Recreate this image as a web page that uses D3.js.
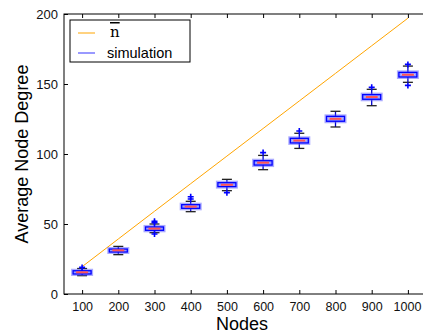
<!DOCTYPE html>
<meta charset="utf-8">
<style>
body { margin: 0; background: #fff; }
svg { display: block; }
.axis text { font: 13px "Liberation Sans", sans-serif; fill: #111; }
.axis--x text { font-size: 12.5px; }
.lbl { font: 18px "Liberation Sans", sans-serif; fill: #000; }
</style>
<body>
<svg width="423" height="334"></svg>
<script src="https://d3js.org/d3.v7.min.js"></script>
<script>
// nodes and the n-bar line
var nodes = [100, 200, 300, 400, 500, 600, 700, 800, 900, 1000];
var nbar = [19.5, 39.3, 59.1, 78.8, 98.5, 118.2, 137.9, 157.6, 177.3, 197];

// box plot stats per node count
var whiskLo = [13.1, 28.1, 43.8, 58.8, 73.8, 88.8, 104, 119.3, 134.5, 151.2];
var q1      = [14.3, 30.0, 45.5, 61.2, 76.7, 92.1, 107.9, 123.4, 139.1, 155.0];
var median  = [15.5, 31.2, 46.7, 62.4, 78.0, 93.8, 109.6, 125.1, 140.7, 156.6];
var q3      = [16.6, 32.1, 47.9, 63.8, 79.5, 95.2, 111.2, 126.9, 142.4, 158.3];
var whiskHi = [18.2, 34.0, 50.0, 66.2, 81.9, 99.0, 114.8, 130.5, 146.2, 162.8];
var fliers  = [[19], [], [51.9, 50.9, 42.9], [69.5, 67.9], [72.4], [101], [116.4], [], [147.6], [164, 149]];

var yTicks = [0, 50, 100, 150, 200];

var svg = d3.select("svg"),
    margin = {top: 14, right: -3, bottom: 40, left: 64},
    width = 423 - margin.left - margin.right,
    height = 334 - margin.top - margin.bottom,
    g = svg.append("g").attr("transform", "translate(" + margin.left + "," + margin.top + ")");

var x = d3.scaleLinear().domain([50, 1050]).range([0, width]),
    y = d3.scaleLinear().domain([0, 200]).range([height, 0]);

// frame
g.append("rect").attr("width", width).attr("height", height)
    .attr("fill", "none").attr("stroke", "#000").attr("stroke-width", 1);

g.append("g").attr("class", "axis axis--x")
    .attr("transform", "translate(0," + height + ")")
    .call(d3.axisBottom(x).tickValues(nodes).tickFormat(d3.format("d"))
      .tickSizeInner(-4).tickSizeOuter(0).tickPadding(8))
    .call(function(s) {
      s.select(".domain").remove();
      // last label runs into the window edge; keep it inside
      s.selectAll(".tick")
        .filter(function(d) { return d === nodes[nodes.length - 1]; })
        .select("text")
          .attr("text-anchor", "end")
          .attr("x", 13);
    });

g.append("g")
    .call(d3.axisTop(x).tickValues(nodes).tickSizeInner(-4).tickSizeOuter(0).tickFormat(""))
    .call(function(s) { s.select(".domain").remove(); });

g.append("g").attr("class", "axis")
    .call(d3.axisLeft(y).tickValues(yTicks).tickSizeInner(-4).tickSizeOuter(0).tickPadding(6))
    .call(function(s) { s.select(".domain").remove(); });

// n-bar line
g.append("path")
    .datum(nodes.map(function(n, i) { return [n, nbar[i]]; }))
    .attr("fill", "none").attr("stroke", "orange").attr("stroke-width", 1)
    .attr("d", d3.line().x(function(d) { return x(d[0]); }).y(function(d) { return y(d[1]); }));

// boxes
var bw = 18, cw = 10;
var box = g.selectAll(".box").data(nodes).enter().append("g").attr("class", "box");

box.append("line")
    .attr("x1", function(d) { return x(d); }).attr("x2", function(d) { return x(d); })
    .attr("y1", function(d, i) { return y(whiskLo[i]); }).attr("y2", function(d, i) { return y(whiskHi[i]); })
    .attr("stroke", "#0000cc").attr("stroke-width", 1.3);

box.selectAll(".cap").data(function(d, i) { return [[d, whiskLo[i]], [d, whiskHi[i]]]; })
  .enter().append("line")
    .attr("x1", function(d) { return x(d[0]) - cw / 2; }).attr("x2", function(d) { return x(d[0]) + cw / 2; })
    .attr("y1", function(d) { return y(d[1]); }).attr("y2", function(d) { return y(d[1]); })
    .attr("stroke", "#222").attr("stroke-width", 1.3);

box.append("rect")
    .attr("x", function(d) { return x(d) - bw / 2; }).attr("width", bw)
    .attr("y", function(d, i) { return y(q3[i]); })
    .attr("height", function(d, i) { return y(q1[i]) - y(q3[i]); })
    .attr("fill", "#dde0ff").attr("stroke", "#5555ff").attr("stroke-opacity", 0.5).attr("stroke-width", 4);

box.append("rect")
    .attr("x", function(d) { return x(d) - bw / 2; }).attr("width", bw)
    .attr("y", function(d, i) { return y(q3[i]); })
    .attr("height", function(d, i) { return y(q1[i]) - y(q3[i]); })
    .attr("fill", "none").attr("stroke", "#0000ff").attr("stroke-width", 1.3);

box.append("line")
    .attr("x1", function(d) { return x(d) - bw / 2 + 3; }).attr("x2", function(d) { return x(d) + bw / 2 - 3; })
    .attr("y1", function(d, i) { return y(median[i]); }).attr("y2", function(d, i) { return y(median[i]); })
    .attr("stroke", "#ff5555").attr("stroke-width", 2);

box.selectAll(".flier").data(function(d, i) { return fliers[i].map(function(v) { return [d, v]; }); })
  .enter().append("path")
    .attr("d", function(d) {
      var cx = x(d[0]), cy = y(d[1]);
      return "M" + (cx - 3) + "," + cy + "H" + (cx + 3) + "M" + cx + "," + (cy - 3) + "V" + (cy + 3);
    })
    .attr("stroke", "#0000ff").attr("stroke-width", 1.6);

// legend
var lg = g.append("g").attr("transform", "translate(6,6)");
lg.append("rect").attr("width", 120).attr("height", 42)
    .attr("fill", "#fff").attr("stroke", "#000").attr("stroke-width", 1);
lg.append("line").attr("x1", 8).attr("x2", 25).attr("y1", 13).attr("y2", 13)
    .attr("stroke", "orange").attr("stroke-width", 1);
lg.append("text").attr("x", 40).attr("y", 17).text("n")
    .style("font", "15px 'DejaVu Serif', serif").style("text-decoration", "overline");
lg.append("line").attr("x1", 8).attr("x2", 25).attr("y1", 33).attr("y2", 33)
    .attr("stroke", "#7777ff").attr("stroke-width", 1.5);
lg.append("text").attr("x", 37).attr("y", 38).text("simulation")
    .style("font", "14.5px 'Liberation Sans', sans-serif");

// axis labels
svg.append("text").attr("class", "lbl")
    .attr("text-anchor", "middle")
    .attr("transform", "translate(28," + (margin.top + height / 2) + ") rotate(-90)")
    .text("Average Node Degree");
svg.append("text").attr("class", "lbl")
    .attr("text-anchor", "middle")
    .attr("x", 242).attr("y", 330)
    .text("Nodes");
</script>
</body>
